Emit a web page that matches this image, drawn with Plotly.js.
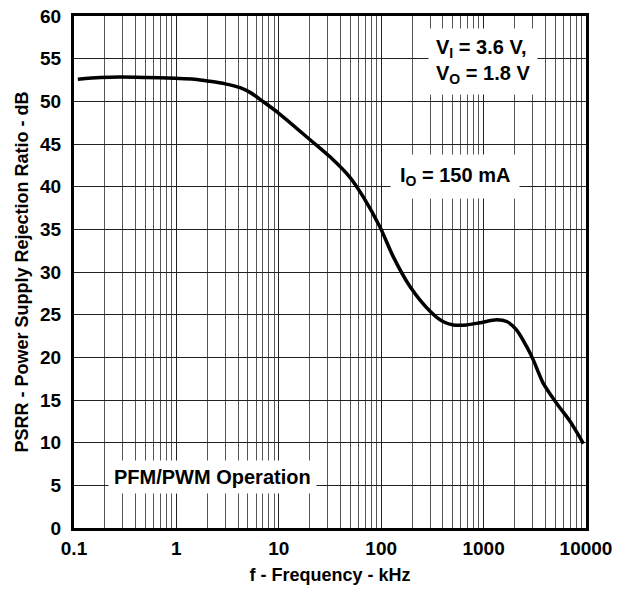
<!DOCTYPE html>
<html>
<head>
<meta charset="utf-8">
<script src="https://cdn.plot.ly/plotly-3.0.1.min.js"></script>
<style>html,body{margin:0;padding:0;background:#fff}#chart{width:622px;height:590px}</style>
</head>
<body>
<div id="chart"></div>
<script>
// Frequency in kHz
const freqKHz = [0.109, 0.18, 0.28, 0.5, 0.97, 1.5, 2.13, 3.0, 4.18, 5.24, 7.07, 10, 20.2, 31.6, 49.5, 66.8, 97, 131, 191, 300, 400, 506, 684, 922, 1343, 1682, 2105, 2636, 3056, 3828, 5176, 6985, 9424];
// PSRR in dB
const psrrDb = [52.6, 52.8, 52.85, 52.8, 52.7, 52.6, 52.35, 52.05, 51.6, 51.05, 49.95, 48.6, 45.5, 43.5, 41.1, 38.8, 35.3, 31.8, 28.3, 25.4, 24.2, 23.8, 23.8, 24.05, 24.4, 24.2, 23.2, 21.25, 19.7, 16.95, 14.6, 12.5, 9.9];

const majorTicks = [0.1, 1, 10, 100, 1000, 10000];
const majorTickText = ['0.1', '1', '10', '100', '1000', '10000'];
const minorTicks = [];
for (const d of [0.1, 1, 10, 100, 1000]) for (let k = 2; k <= 9; k++) minorTicks.push(+(d * k).toPrecision(3));
const yTicks = [0, 5, 10, 15, 20, 25, 30, 35, 40, 45, 50, 55, 60];

const F = (size) => ({family: 'Liberation Sans, Arial, sans-serif', color: '#000', size: size, weight: 'bold'});

const trace = {
  x: freqKHz, y: psrrDb, type: 'scatter', mode: 'lines',
  line: {color: '#000', width: 3.5, shape: 'spline', smoothing: 0.8},
  hoverinfo: 'skip'
};

const layout = {
  width: 622, height: 590,
  margin: {l: 74, r: 36, t: 16, b: 62},
  paper_bgcolor: '#fff', plot_bgcolor: '#fff',
  showlegend: false,
  font: F(18),
  xaxis: {
    type: 'log', range: [-1, 4],
    tickvals: majorTicks, ticktext: majorTickText,
    tickfont: F(19), tickangle: 0, ticklabelstandoff: 1,
    ticks: '', showgrid: true, gridcolor: '#222', gridwidth: 1,
    minor: {tickvals: minorTicks, showgrid: true, gridcolor: '#555', gridwidth: 1, ticks: ''},
    showline: true, linecolor: '#000', linewidth: 3, mirror: true,
    zeroline: false, automargin: false,
    title: {text: 'f - Frequency - kHz', font: F(18), standoff: 11}
  },
  yaxis: {
    range: [0, 60], tickvals: yTicks,
    tickfont: F(19), ticklabelstandoff: 6,
    ticks: '', showgrid: true, gridcolor: '#222', gridwidth: 1,
    showline: true, linecolor: '#000', linewidth: 3, mirror: true,
    zeroline: false, automargin: false,
    title: {text: 'PSRR - Power Supply Rejection Ratio - dB', font: F(18), standoff: 7}
  },
  annotations: [
    {xref: 'paper', yref: 'paper', x: 0.798, y: 0.912, xanchor: 'center', yanchor: 'middle',
     text: 'V<sub>I</sub> = 3.6 V,<br>V<sub>O</sub> = 1.8 V', showarrow: false,
     font: F(20), bgcolor: '#fff', borderpad: 7, align: 'left'},
    {xref: 'paper', yref: 'paper', x: 0.744, y: 0.6875, xanchor: 'center', yanchor: 'middle',
     text: 'I<sub>O</sub> = 150 mA', showarrow: false,
     font: F(20), bgcolor: '#fff', borderpad: 9},
    {xref: 'paper', yref: 'paper', x: 0.27, y: 0.0996, xanchor: 'center', yanchor: 'middle',
     text: 'PFM/PWM Operation', showarrow: false,
     font: F(20), bgcolor: '#fff', borderpad: 5}
  ]
};

Plotly.newPlot('chart', [trace], layout, {staticPlot: true, displayModeBar: false});
</script>
</body>
</html>
